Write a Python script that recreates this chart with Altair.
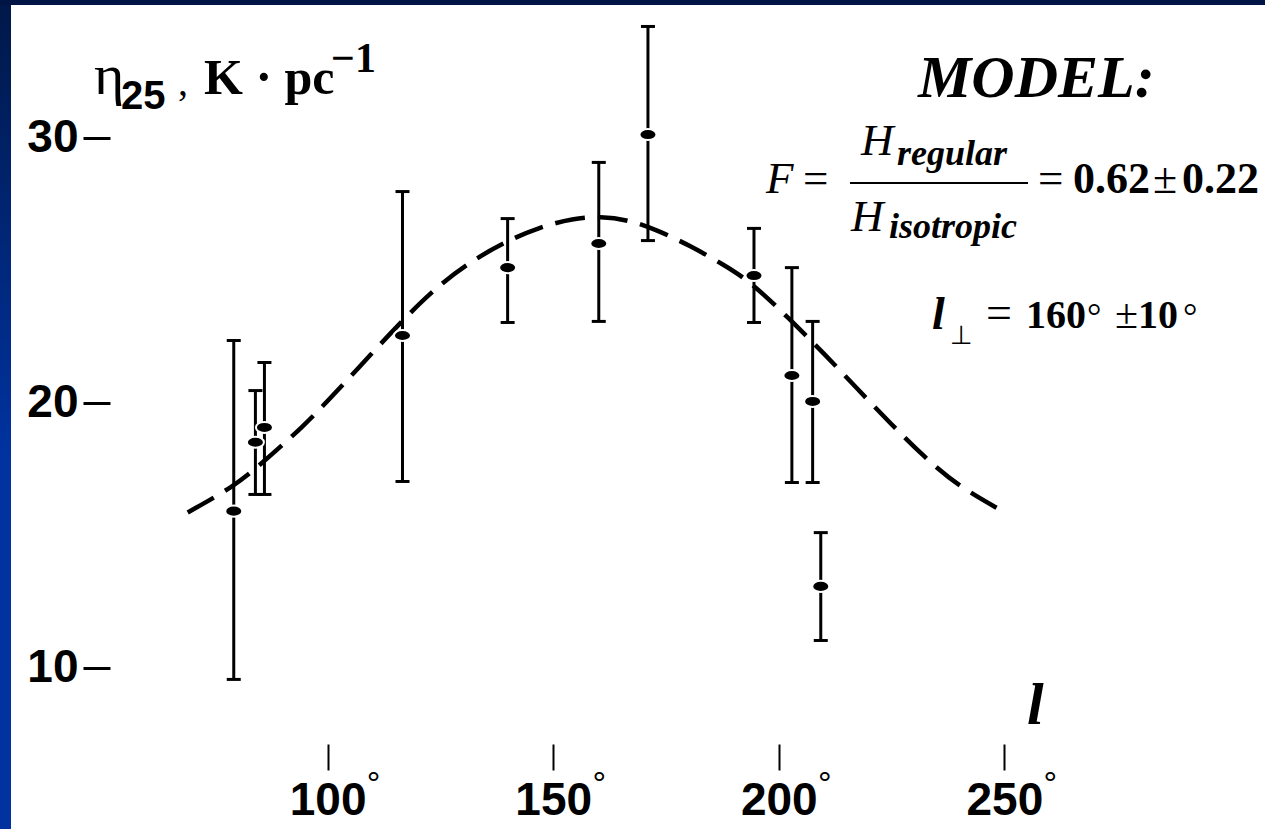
import altair as alt
import pandas as pd

# ---- data ----
pt_l = [79.2, 84.0, 86.0, 116.6, 139.9, 160.1, 171.0, 194.5, 202.9, 207.5, 209.3]
pt_v = [15.9, 18.5, 19.06, 22.53, 25.09, 26.0, 30.11, 24.79, 21.02, 20.04, 13.06]
pt_lo = [9.55, 16.53, 16.53, 17.02, 23.02, 23.06, 26.11, 23.02, 16.98, 16.98, 11.02]
pt_hi = [22.34, 20.45, 21.51, 27.96, 26.94, 29.06, 34.19, 26.57, 25.09, 23.06, 15.09]

curve_l = [69.0, 79.4, 84.7, 94.7, 102.2, 109.5, 116.9, 124.4, 132.4, 139.9, 146.6,
           154.5, 160.5, 166.5, 173.2, 180.5, 187.8, 193.8, 202.7, 210.0, 217.5,
           224.8, 232.2, 239.7, 249.7]
curve_v = [15.85, 16.85, 17.6, 19.1, 20.45, 21.8, 23.15, 24.4, 25.4, 26.1, 26.6,
           26.95, 27.02, 26.9, 26.5, 25.9, 25.2, 24.55, 23.1, 21.85, 20.5,
           19.2, 17.95, 16.85, 15.89]

x_ticks = [100, 150, 200, 250]
y_ticks = [10, 20, 30]

# ---- layout (page pixels) ----
PL, PT, W, H = 102, 5, 1128, 742
PR = 1265 - PL - W
PB = 829 - PT - H

pts = pd.DataFrame({"l": pt_l, "v": pt_v, "lo": pt_lo, "hi": pt_hi})
caps = pd.DataFrame({"l": pt_l + pt_l, "c": pt_lo + pt_hi})
curve = pd.DataFrame({"l": curve_l, "v": curve_v})
deg = pd.DataFrame({"l": x_ticks})

xs = alt.Scale(domain=[50, 300], nice=False, zero=False)
ys = alt.Scale(domain=[7, 35], nice=False, zero=False)

xax = alt.Axis(values=x_ticks, domain=False, grid=False, title=None, tickSize=26,
               tickWidth=2, tickColor="black", offset=-3, labelFont="Liberation Sans",
               labelFontWeight="bold", labelFontSize=46, labelColor="black",
               labelPadding=8, labelFlush=False, labelOverlap=False)
yax = alt.Axis(values=y_ticks, domain=False, grid=False, title=None, tickSize=27,
               tickWidth=3, tickColor="black", offset=-8, labelFont="Liberation Sans",
               labelFontWeight="bold", labelFontSize=46, labelColor="black",
               labelPadding=5, labelFlush=False, labelOverlap=False)


def px(x):
    return alt.value(x - PL)


def py(y):
    return alt.value(y - PT)


one = pd.DataFrame({"a": [0]})

# background frame (navy bands)
left_band = alt.Chart(one).mark_rect(
    color=alt.Gradient(gradient="linear", x1=0, x2=0, y1=0, y2=1,
                       stops=[alt.GradientStop(color="#001848", offset=0),
                              alt.GradientStop(color="#0033a0", offset=0.55),
                              alt.GradientStop(color="#0033a0", offset=1)])
).encode(x=px(0), x2=px(11), y=py(0), y2=py(829))
top_band = alt.Chart(one).mark_rect(color="#001545").encode(
    x=px(0), x2=px(1265), y=py(0), y2=py(5))

model_line = alt.Chart(curve).mark_line(
    color="black", strokeWidth=4.5, strokeDash=[30, 13], interpolate="basis"
).encode(x=alt.X("l:Q", scale=xs, axis=xax), y=alt.Y("v:Q", scale=ys, axis=yax))

bars = alt.Chart(pts).mark_rule(color="black", strokeWidth=3).encode(
    x=alt.X("l:Q", scale=xs), y=alt.Y("lo:Q", scale=ys), y2="hi:Q")

cap_marks = alt.Chart(caps).mark_rule(color="black", strokeWidth=3, xOffset=-7, x2Offset=7).encode(
    x=alt.X("l:Q", scale=xs), x2="l:Q", y=alt.Y("c:Q", scale=ys))

ellipse = "M-1,0 A1,0.65 0 1,0 1,0 A1,0.65 0 1,0 -1,0 Z"
dots = alt.Chart(pts).mark_point(
    shape=ellipse, filled=True, fill="black", stroke="white", strokeWidth=2,
    size=290, opacity=1
).encode(x=alt.X("l:Q", scale=xs), y=alt.Y("v:Q", scale=ys))

deg_marks = alt.Chart(deg).mark_text(
    text="°", font="Liberation Sans", fontSize=34, align="center",
    baseline="alphabetic", color="black", dx=46
).encode(x=alt.X("l:Q", scale=xs), y=py(795))


def txt(s, x, y, size, font="Liberation Serif", weight="normal", style="normal", align="left"):
    return alt.Chart(one).mark_text(
        text=s, font=font, fontSize=size, fontWeight=weight, fontStyle=style,
        align=align, baseline="alphabetic", color="black"
    ).encode(x=px(x), y=py(y))


texts = [
    # y-axis title
    txt("η", 94, 94, 58),
    txt("25", 121, 109, 40, font="Liberation Sans", weight="bold"),
    txt(",", 178, 95, 40),
    txt("K · pc", 204, 94, 50, weight="bold"),
    txt("−1", 331, 72, 42, weight="bold"),
    # model block
    txt("MODEL:", 918, 97, 60, weight="bold", style="italic"),
    txt("F", 766, 193, 45, style="italic"),
    txt("=", 803, 193, 45),
    txt("H", 861, 155, 45, style="italic"),
    txt("regular", 897, 165, 36, weight="bold", style="italic"),
    txt("H", 851, 231, 45, style="italic"),
    txt("isotropic", 889, 238, 36, weight="bold", style="italic"),
    txt("=", 1038, 193, 45),
    txt("0.62", 1073, 193, 44, weight="bold"),
    txt("±", 1153, 193, 44),
    txt("0.22", 1182, 193, 44, weight="bold"),
    txt("l", 932, 329, 46, weight="bold", style="italic"),
    txt("⊥", 950, 344, 26, font="DejaVu Sans"),
    txt("=", 986, 328, 46),
    txt("160", 1026, 328, 40, weight="bold"),
    txt("°", 1087, 328, 36),
    txt("±", 1115, 328, 42),
    txt("10", 1138, 328, 40, weight="bold"),
    txt("°", 1183, 328, 36),
    # x-axis title
    txt("l", 1027, 724, 60, weight="bold", style="italic"),
]

frac_bar = alt.Chart(one).mark_rule(color="black", strokeWidth=2).encode(
    x=px(850), x2=px(1028), y=py(183))

chart = alt.layer(
    left_band, top_band, model_line, bars, cap_marks, dots, deg_marks, frac_bar, *texts
).properties(
    width=W, height=H,
    padding={"left": PL, "top": PT, "right": PR, "bottom": PB},
    autosize=alt.AutoSizeParams(type="none"),
    background="white",
).configure_view(stroke=None)

chart.save("out.html", embed_options={"renderer": "svg", "actions": False})
